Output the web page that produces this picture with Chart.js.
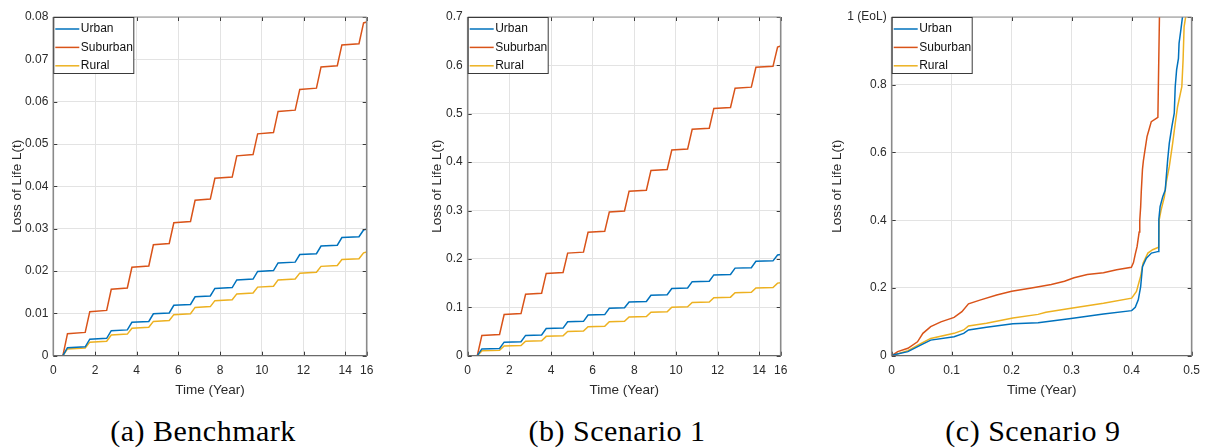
<!DOCTYPE html>
<html><head><meta charset="utf-8">
<script src="https://cdn.jsdelivr.net/npm/chart.js@4.4.0/dist/chart.umd.min.js"></script>
<style>
html,body{margin:0;padding:0;background:#fff;}
body{width:1208px;height:448px;position:relative;overflow:hidden;}
canvas{position:absolute;top:0;}
.cap{position:absolute;top:416px;height:30px;line-height:30px;font-family:"Liberation Serif",serif;font-size:30px;color:#000;text-align:center;white-space:nowrap;letter-spacing:0.5px;}
</style></head><body>
<canvas id="ca" width="400" height="400" style="left:0px"></canvas>
<canvas id="cb" width="400" height="400" style="left:400px"></canvas>
<canvas id="cc" width="408" height="400" style="left:800px"></canvas>
<div class="cap" style="left:103px;width:200px">(a) Benchmark</div>
<div class="cap" style="left:517px;width:200px">(b) Scenario 1</div>
<div class="cap" style="left:933px;width:200px">(c) Scenario 9</div>
<script>
// ---------- data ----------
const seriesNames = ['Urban', 'Suburban', 'Rural'];
const seriesColors = ['#0072BD', '#D95319', '#EDB120'];

// time points (years) shared by panels (a) and (b)
const stepTimes = [0, 0.46,0.68, 1.53,1.75, 2.56,2.78, 3.55,3.77, 4.58,4.80, 5.56,5.78, 6.58,6.80, 7.53,7.75, 8.58,8.80, 9.58,9.80, 10.56,10.78, 11.60,11.82, 12.62,12.84, 13.62,13.84, 14.66,14.88, 15.03];

// (a) Benchmark
const benchUrban = [0, 0,0.0019, 0.0021,0.0039, 0.0041,0.0059, 0.0061,0.0079, 0.0081,0.0099, 0.0101,0.0119, 0.0121,0.0139, 0.0141,0.0159, 0.0161,0.0179, 0.0181,0.0199, 0.0201,0.0219, 0.0221,0.0239, 0.0241,0.0259, 0.0261,0.0279, 0.0281,0.0297, 0.0299];
const benchSuburban = [0, 0,0.0052, 0.0055,0.0104, 0.0107,0.0157, 0.0160,0.0209, 0.0212,0.0262, 0.0265,0.0314, 0.0317,0.0367, 0.0370,0.0419, 0.0422,0.0472, 0.0475,0.0524, 0.0527,0.0577, 0.0580,0.0629, 0.0632,0.0682, 0.0685,0.0734, 0.0737,0.0786, 0.0788];
const benchRural = [0, 0,0.0016, 0.0018,0.0032, 0.0034,0.0049, 0.0051,0.0065, 0.0067,0.0081, 0.0083,0.0097, 0.0099,0.0114, 0.0116,0.0130, 0.0132,0.0146, 0.0148,0.0162, 0.0164,0.0179, 0.0181,0.0195, 0.0197,0.0211, 0.0213,0.0227, 0.0229,0.0243, 0.0245];

// (b) Scenario 1
const s1Urban = [0, 0,0.014, 0.015,0.028, 0.029,0.042, 0.043,0.056, 0.057,0.070, 0.071,0.084, 0.085,0.098, 0.099,0.111, 0.112,0.125, 0.126,0.139, 0.140,0.153, 0.154,0.167, 0.168,0.181, 0.182,0.195, 0.196,0.208, 0.209];
const s1Suburban = [0, 0,0.042, 0.044,0.085, 0.087,0.127, 0.129,0.170, 0.172,0.212, 0.214,0.255, 0.257,0.297, 0.299,0.340, 0.342,0.383, 0.385,0.425, 0.427,0.468, 0.470,0.511, 0.513,0.553, 0.555,0.596, 0.598,0.638, 0.640];
const s1Rural = [0, 0,0.010, 0.011,0.020, 0.021,0.030, 0.031,0.040, 0.041,0.050, 0.051,0.060, 0.061,0.070, 0.071,0.080, 0.081,0.090, 0.091,0.100, 0.101,0.110, 0.111,0.120, 0.121,0.130, 0.131,0.140, 0.141,0.150, 0.151];

// (c) Scenario 9
const s9UrbanT = [0, 0.002, 0.027, 0.049, 0.065, 0.104, 0.120, 0.128, 0.158, 0.202, 0.244, 0.299, 0.353, 0.400, 0.406, 0.411, 0.415, 0.418, 0.4245, 0.433, 0.445, 0.4453, 0.4474, 0.4518, 0.456, 0.4573, 0.460, 0.4627, 0.467, 0.471, 0.4726, 0.4749, 0.478, 0.479, 0.482, 0.4847];
const s9UrbanL = [0, 0.002, 0.012, 0.032, 0.046, 0.056, 0.066, 0.076, 0.084, 0.094, 0.097, 0.110, 0.123, 0.133, 0.143, 0.165, 0.204, 0.263, 0.288, 0.303, 0.308, 0.403, 0.440, 0.469, 0.489, 0.519, 0.578, 0.627, 0.676, 0.716, 0.794, 0.844, 0.878, 0.922, 0.962, 1.0];
const s9SuburbanT = [0, 0.010, 0.027, 0.043, 0.052, 0.065, 0.082, 0.104, 0.117, 0.128, 0.147, 0.175, 0.200, 0.233, 0.266, 0.288, 0.304, 0.326, 0.353, 0.375, 0.3995, 0.403, 0.406, 0.409, 0.4125, 0.4135, 0.415, 0.416, 0.418, 0.4195, 0.4216, 0.4256, 0.429, 0.4327, 0.4437, 0.4463];
const s9SuburbanL = [0, 0.012, 0.022, 0.041, 0.066, 0.086, 0.100, 0.113, 0.130, 0.153, 0.164, 0.179, 0.190, 0.200, 0.210, 0.220, 0.230, 0.240, 0.245, 0.254, 0.261, 0.275, 0.300, 0.322, 0.365, 0.400, 0.440, 0.484, 0.550, 0.575, 0.600, 0.647, 0.668, 0.691, 0.704, 1.0];
const s9RuralT = [0, 0.027, 0.049, 0.065, 0.104, 0.120, 0.128, 0.158, 0.202, 0.244, 0.257, 0.299, 0.353, 0.400, 0.408, 0.415, 0.419, 0.427, 0.435, 0.445, 0.4458, 0.449, 0.4545, 0.4573, 0.4627, 0.4683, 0.4726, 0.4765, 0.4836, 0.4857, 0.4874, 0.490];
const s9RuralL = [0, 0.015, 0.036, 0.051, 0.066, 0.076, 0.088, 0.096, 0.111, 0.122, 0.128, 0.140, 0.155, 0.170, 0.190, 0.235, 0.273, 0.303, 0.313, 0.320, 0.400, 0.430, 0.469, 0.509, 0.558, 0.627, 0.686, 0.735, 0.794, 0.873, 0.971, 1.0];

// ticks
const xTickValsAB = [0, 2, 4, 6, 8, 10, 12, 14, 15.03];
const xTickLabelsAB = ['0', '2', '4', '6', '8', '10', '12', '14', '16'];
const yTickValsA = [0, 0.01, 0.02, 0.03, 0.04, 0.05, 0.06, 0.07, 0.08];
const yTickLabelsA = ['0', '0.01', '0.02', '0.03', '0.04', '0.05', '0.06', '0.07', '0.08'];
const yTickValsB = [0, 0.1, 0.2, 0.3, 0.4, 0.5, 0.6, 0.7];
const yTickLabelsB = ['0', '0.1', '0.2', '0.3', '0.4', '0.5', '0.6', '0.7'];
const xTickValsC = [0, 0.1, 0.2, 0.3, 0.4, 0.5];
const xTickLabelsC = ['0', '0.1', '0.2', '0.3', '0.4', '0.5'];
const yTickValsC = [0, 0.2, 0.4, 0.6, 0.8, 1];
const yTickLabelsC = ['0', '0.2', '0.4', '0.6', '0.8', '1 (EoL)'];

const xTitle = 'Time (Year)';
const yTitle = 'Loss of Life L(t)';

// ---------- helpers ----------
function zip(ts, vs) { return ts.map((t, i) => ({ x: t, y: vs[i] })); }

const FONT = '"Liberation Sans", Arial, sans-serif';

const matlabBox = {
  id: 'matlabBox',
  afterDatasetsDraw(chart) {
    const { ctx, chartArea: a, scales: { x, y } } = chart;
    ctx.save();
    // inward tick marks on all four sides
    ctx.strokeStyle = '#3a3a3a';
    ctx.lineWidth = 1;
    const tl = 4;
    ctx.beginPath();
    x.ticks.forEach(t => {
      const px = Math.round(x.getPixelForValue(t.value)) + 0.5;
      ctx.moveTo(px, a.bottom); ctx.lineTo(px, a.bottom - tl);
      ctx.moveTo(px, a.top); ctx.lineTo(px, a.top + tl);
    });
    y.ticks.forEach(t => {
      const py = Math.round(y.getPixelForValue(t.value)) + 0.5;
      ctx.moveTo(a.left, py); ctx.lineTo(a.left + tl, py);
      ctx.moveTo(a.right, py); ctx.lineTo(a.right - tl, py);
    });
    ctx.stroke();
    // box
    ctx.strokeStyle = '#8a8a8a';
    ctx.lineWidth = 1.6;
    ctx.beginPath();
    ctx.moveTo(a.left, a.top); ctx.lineTo(a.left, a.bottom);
    ctx.moveTo(a.right, a.top); ctx.lineTo(a.right, a.bottom);
    ctx.stroke();
    ctx.strokeStyle = '#6a6a6a';
    ctx.lineWidth = 1.2;
    ctx.beginPath();
    ctx.moveTo(a.left, a.bottom); ctx.lineTo(a.right, a.bottom);
    ctx.stroke();
    ctx.strokeStyle = '#909090';
    ctx.lineWidth = 1;
    ctx.beginPath();
    ctx.moveTo(a.left, a.top); ctx.lineTo(a.right, a.top);
    ctx.stroke();

    // legend box (top-left, inside axes)
    const bx = a.left + 0.5, by = a.top + 0.5, bw = 80, bh = 56;
    ctx.fillStyle = '#ffffff';
    ctx.fillRect(bx, by, bw, bh);
    ctx.strokeStyle = '#3a3a3a';
    ctx.lineWidth = 1;
    ctx.strokeRect(bx, by, bw, bh);
    ctx.font = '12px ' + FONT;
    ctx.textBaseline = 'middle';
    ctx.textAlign = 'left';
    chart.data.datasets.forEach((ds, i) => {
      const cy = by + 11.5 + i * 18.4;
      ctx.strokeStyle = ds.borderColor;
      ctx.lineWidth = 1.5;
      ctx.beginPath();
      ctx.moveTo(bx + 1.5, cy); ctx.lineTo(bx + 25.5, cy);
      ctx.stroke();
      ctx.fillStyle = '#111';
      ctx.fillText(ds.label, bx + 27, cy);
    });
    ctx.restore();
  }
};

function makeChart(id, cfg) {
  const datasets = cfg.series.map((s, i) => ({
    label: seriesNames[i],
    data: zip(s.t, s.v),
    borderColor: seriesColors[i],
    backgroundColor: seriesColors[i],
    borderWidth: 1.5,
    pointRadius: 0,
    tension: 0,
    fill: false
  }));
  return new Chart(document.getElementById(id), {
    type: 'line',
    data: { datasets },
    plugins: [matlabBox],
    options: {
      responsive: false,
      animation: false,
      events: [],
      layout: { padding: { left: 0, top: 17, right: cfg.padRight, bottom: 0 } },
      plugins: { legend: { display: false }, tooltip: { enabled: false } },
      scales: {
        x: {
          type: 'linear',
          min: cfg.xMin, max: cfg.xMax,
          afterBuildTicks: sc => { sc.ticks = cfg.xTicks.map(v => ({ value: v })); },
          afterFit: sc => { sc.height = 44.3; },
          ticks: {
            autoSkip: false, maxRotation: 0, minRotation: 0,
            padding: 8,
            color: '#2a2a2a',
            font: { family: FONT, size: 12 },
            callback: (v, i) => cfg.xLabels[i]
          },
          grid: { color: '#e3e3e3', lineWidth: 1, drawTicks: false },
          border: { display: false },
          title: {
            display: true, text: xTitle, color: '#2a2a2a',
            font: { family: FONT, size: 13.5 },
            padding: { top: 0, bottom: 1.5 }
          }
        },
        y: {
          type: 'linear',
          min: 0, max: cfg.yMax,
          afterBuildTicks: sc => { sc.ticks = cfg.yTicks.map(v => ({ value: v })); },
          afterFit: sc => { sc.width = cfg.axisW; },
          ticks: {
            autoSkip: false,
            padding: 5,
            color: '#2a2a2a',
            font: { family: FONT, size: 12 },
            callback: (v, i) => cfg.yLabels[i]
          },
          grid: { color: '#e3e3e3', lineWidth: 1, drawTicks: false },
          border: { display: false },
          title: {
            display: true, text: yTitle, color: '#2a2a2a',
            font: { family: FONT, size: 13.5 },
            padding: { top: cfg.yTitlePad, bottom: 0 }
          }
        }
      }
    }
  });
}

makeChart('ca', {
  series: [{ t: stepTimes, v: benchUrban }, { t: stepTimes, v: benchSuburban }, { t: stepTimes, v: benchRural }],
  xMin: 0, xMax: 15.03, yMax: 0.08,
  xTicks: xTickValsAB, xLabels: xTickLabelsAB,
  yTicks: yTickValsA, yLabels: yTickLabelsA,
  axisW: 53.3, padRight: 33.3, yTitlePad: 9
});
makeChart('cb', {
  series: [{ t: stepTimes, v: s1Urban }, { t: stepTimes, v: s1Suburban }, { t: stepTimes, v: s1Rural }],
  xMin: 0, xMax: 15.03, yMax: 0.7,
  xTicks: xTickValsAB, xLabels: xTickLabelsAB,
  yTicks: yTickValsB, yLabels: yTickLabelsB,
  axisW: 67.7, padRight: 19.3, yTitlePad: 29.6
});
makeChart('cc', {
  series: [{ t: s9UrbanT, v: s9UrbanL }, { t: s9SuburbanT, v: s9SuburbanL }, { t: s9RuralT, v: s9RuralL }],
  xMin: 0, xMax: 0.5, yMax: 1,
  xTicks: xTickValsC, xLabels: xTickLabelsC,
  yTicks: yTickValsC, yLabels: yTickLabelsC,
  axisW: 91.7, padRight: 12, yTitlePad: 29
});
</script>
</body></html>
